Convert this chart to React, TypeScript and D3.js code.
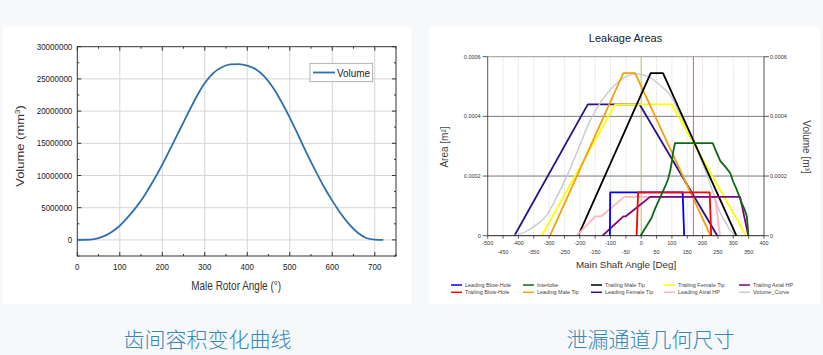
import React from 'react';
import * as d3 from 'd3';

const W = 823;
const H = 355;

// ---------- Left chart data (Volume vs Male Rotor Angle) ----------
const volumeAngle = [0, 20, 40, 60, 80, 100, 120, 140, 160, 180, 200, 220, 240, 260, 280, 300, 320, 340, 360, 380, 400, 420, 440, 460, 480, 500, 520, 540, 560, 580, 600, 620, 640, 660, 680, 700, 720];
const volumeMm3 = [0, 20000, 120000, 500000, 1200000, 2200000, 3600000, 5200000, 7100000, 9300000, 11700000, 14300000, 16950000, 19600000, 22150000, 24350000, 25900000, 26800000, 27250000, 27300000, 27050000, 26500000, 25400000, 23700000, 21500000, 19000000, 16250000, 13450000, 10800000, 8300000, 6100000, 4100000, 2400000, 1100000, 300000, 50000, 0];
const leftXTicks = [0, 100, 200, 300, 400, 500, 600, 700];
const leftYTicks = [0, 5000000, 10000000, 15000000, 20000000, 25000000, 30000000];

// ---------- Right chart data (Leakage Areas) ----------
const rightXTicksTop = [-500, -400, -300, -200, -100, 0, 100, 200, 300, 400];
const rightXTicksBottom = [-450, -350, -250, -150, -50, 50, 150, 250, 350];
const rightYTicks = [0, 0.0002, 0.0004, 0.0006];
const refLineGreen = 0;
const refLinePink = 170;

const leadingBlowHole: [number, number][] = [[-102, 0], [-101, 0.000145], [135, 0.000145], [140, 0]];
const trailingBlowHole: [number, number][] = [[-15, 0], [-10, 0.000145], [223, 0.000145], [228, 0]];
const interlobe: [number, number][] = [[-2, 0], [10, 0.00002], [22, 0.00004], [34, 0.00006], [45, 0.00009], [56, 0.000115], [67, 0.00014], [78, 0.000165], [88, 0.00019], [95, 0.00022], [100, 0.00025], [104, 0.00028], [110, 0.00031], [233, 0.00031], [245, 0.00028], [258, 0.00025], [275, 0.00023], [290, 0.00021], [300, 0.00018], [311, 0.000155], [320, 0.00013], [327, 0.00011], [336, 0.00009], [344, 0.000065], [347, 0.00003], [349, 0]];
const leadingMaleTip: [number, number][] = [[-297, 0], [-58, 0.000545], [-20, 0.000545], [226, 0]];
const trailingMaleTip: [number, number][] = [[-205, 0], [31, 0.000545], [71, 0.000545], [310, 0]];
const leadingFemaleTip: [number, number][] = [[-413, 0], [-174, 0.00044], [-5, 0.00044], [248, 0]];
const trailingFemaleTip: [number, number][] = [[-324, 0], [-85, 0.00044], [99, 0.00044], [342, 0]];
const leadingAxialHP: [number, number][] = [[-210, 0], [-150, 0.000065], [-130, 0.000065], [-55, 0.00013], [240, 0.00013], [257, 0]];
const trailingAxialHP: [number, number][] = [[-126, 0], [-58, 0.000065], [-50, 0.000065], [29, 0.00013], [322, 0.00013], [349, 0]];
const volumeCurve: [number, number][] = [[-418, 0], [-380, 0.000012], [-340, 0.000038], [-308, 0.000068], [-275, 0.00013], [-243, 0.000198], [-205, 0.00029], [-167, 0.000385], [-130, 0.00045], [-91, 0.0005], [-55, 0.00053], [-20, 0.000542], [20, 0.000535], [60, 0.000505], [94, 0.000472], [137, 0.000385], [170, 0.000325], [190, 0.00027], [224, 0.000175], [257, 0.000078], [280, 0.000035], [295, 0.000012], [308, 0]];

const seriesNames = ['Leading Blow-Hole', 'Trailing Blow-Hole', 'Interlobe', 'Leading Male Tip', 'Trailing Male Tip', 'Leading Female Tip', 'Trailing Female Tip', 'Leading Axial HP', 'Trailing Axial HP', 'Volume_Curve'];
const seriesColors = ['#0000ff', '#ff0000', '#0a6b12', '#f5a00a', '#000000', '#2e1088', '#ffff00', '#ffb6c1', '#800080', '#c9ccd6'];
const seriesData = [leadingBlowHole, trailingBlowHole, interlobe, leadingMaleTip, trailingMaleTip, leadingFemaleTip, trailingFemaleTip, leadingAxialHP, trailingAxialHP, volumeCurve];
// drawing order (indices)
const drawOrder = [5, 9, 6, 3, 4, 7, 8, 0, 1, 2];

const captionLeft = '齿间容积变化曲线';
const captionRight = '泄漏通道几何尺寸';

function LeftChart() {
  const x = d3.scaleLinear().domain([0, 750]).range([77.3, 396]);
  const y = d3.scaleLinear().domain([-2500000, 30000000]).range([256, 46.7]);
  const [x0, x1] = x.range();
  const [y0, y1] = y.range();
  const line = d3.line<number>().x((_, i) => x(volumeAngle[i])).y((d) => y(d)).curve(d3.curveMonotoneX);
  const font = 'Liberation Sans, Arial, sans-serif';
  const minorX = leftXTicks.map((t) => t + 50);
  const minorY = leftYTicks.map((t) => t - 2500000);
  return (
    <g>
      <rect x={3} y={27} width={408.5} height={277} fill="#ffffff" />
      {leftXTicks.slice(1).map((t) => (
        <line key={'gx' + t} x1={x(t)} x2={x(t)} y1={y1} y2={y0} stroke="#d6d6d6" strokeWidth={1} />
      ))}
      {leftYTicks.slice(0, -1).map((t) => (
        <line key={'gy' + t} x1={x0} x2={x1} y1={y(t)} y2={y(t)} stroke="#d6d6d6" strokeWidth={1} />
      ))}
      {leftXTicks.map((t) => (
        <g key={'tx' + t}>
          <line x1={x(t)} x2={x(t)} y1={y0} y2={y0 - 4} stroke="#333" />
          <line x1={x(t)} x2={x(t)} y1={y1} y2={y1 + 4} stroke="#333" />
        </g>
      ))}
      {minorX.map((t) => (
        <g key={'mx' + t}>
          <line x1={x(t)} x2={x(t)} y1={y0} y2={y0 - 2} stroke="#333" />
          <line x1={x(t)} x2={x(t)} y1={y1} y2={y1 + 2} stroke="#333" />
        </g>
      ))}
      {leftYTicks.map((t) => (
        <g key={'ty' + t}>
          <line x1={x0} x2={x0 + 4} y1={y(t)} y2={y(t)} stroke="#333" />
          <line x1={x1} x2={x1 - 4} y1={y(t)} y2={y(t)} stroke="#333" />
        </g>
      ))}
      {minorY.map((t) => (
        <g key={'my' + t}>
          <line x1={x0} x2={x0 + 2} y1={y(t)} y2={y(t)} stroke="#333" />
          <line x1={x1} x2={x1 - 2} y1={y(t)} y2={y(t)} stroke="#333" />
        </g>
      ))}
      <rect x={x0} y={y1} width={x1 - x0} height={y0 - y1} fill="none" stroke="#333" strokeWidth={1} />
      <path d={line(volumeMm3) || ''} fill="none" stroke="#2e6fae" strokeWidth={1.8} />
      {leftYTicks.map((t) => (
        <text key={'ly' + t} transform={`translate(${x0 - 5},${y(t) + 3}) scale(0.89,1)`} textAnchor="end" fontFamily={font} fontSize={9} fill="#222">
          {t}
        </text>
      ))}
      {leftXTicks.map((t) => (
        <text key={'lx' + t} transform={`translate(${x(t)},${270}) scale(0.89,1)`} textAnchor="middle" fontFamily={font} fontSize={9} fill="#222">
          {t}
        </text>
      ))}
      <text transform={`translate(${(x0 + x1) / 2 - 0.5},${289.5}) scale(0.83,1)`} textAnchor="middle" fontFamily={font} fontSize={12} fill="#333">
        Male Rotor Angle (°)
      </text>
      <text transform={`translate(24,${146}) rotate(-90) scale(1,0.85)`} textAnchor="middle" fontFamily={font} fontSize={13} fill="#333">
        Volume (mm<tspan dy={-5} fontSize={8}>3</tspan><tspan dy={5}>)</tspan>
      </text>
      <rect x={310} y={63.3} width={62.7} height={18.4} fill="#fff" stroke="#a0a0a0" strokeWidth={0.8} />
      <line x1={313} x2={335} y1={72.5} y2={72.5} stroke="#2e6fae" strokeWidth={1.8} />
      <text transform="translate(337,76.5) scale(0.9,1)" fontFamily={font} fontSize={11} fill="#222">
        Volume
      </text>
    </g>
  );
}

function RightChart() {
  const x = d3.scaleLinear().domain([-500, 400]).range([487.7, 764]);
  const y = d3.scaleLinear().domain([0, 0.0006]).range([235.7, 56.7]);
  const [x0, x1] = x.range();
  const [y0, y1] = y.range();
  const font = 'Liberation Sans, Arial, sans-serif';
  const line = d3.line<[number, number]>().x((d) => x(d[0])).y((d) => y(d[1]));
  const smooth = d3.line<[number, number]>().x((d) => x(d[0])).y((d) => y(d[1])).curve(d3.curveMonotoneX);
  const gridX = [...rightXTicksTop, ...rightXTicksBottom].filter((t) => t > -500 && t < 400);
  const allTicks = [...rightXTicksTop, ...rightXTicksBottom];
  const legendColX = [451, 523, 591, 664, 739];
  const legendRowY = [285, 292.3];
  return (
    <g>
      <rect x={429} y={27} width={391} height={277} fill="#ffffff" />
      {gridX.map((t) => (
        <line key={'g' + t} x1={x(t)} x2={x(t)} y1={y1} y2={y0} stroke="#c4c4c4" strokeWidth={0.8} strokeDasharray="1,1.5" />
      ))}
      {rightYTicks.slice(1).map((t) => (
        <line key={'h' + t} x1={x0} x2={x1} y1={y(t)} y2={y(t)} stroke={t === 0.0006 ? '#9a9a9a' : '#7a7a7a'} strokeWidth={1} />
      ))}
      <line x1={x(refLineGreen)} x2={x(refLineGreen)} y1={y1} y2={y0} stroke="#a8d060" strokeWidth={1} />
      <line x1={x(refLinePink)} x2={x(refLinePink)} y1={y1} y2={y0} stroke="#ee4c9a" strokeWidth={1} />
      {drawOrder.map((i) => (
        <path key={'s' + i} d={(i === 9 ? smooth(seriesData[i]) : line(seriesData[i])) || ''} fill="none" stroke={seriesColors[i]} strokeWidth={i === 9 ? 1.5 : 1.8} strokeLinejoin="round" />
      ))}
      <line x1={x0} x2={x0} y1={y1} y2={y0} stroke="#555" strokeWidth={1} />
      <line x1={x1} x2={x1} y1={y1} y2={y0} stroke="#555" strokeWidth={1} />
      <line x1={x0} x2={x1} y1={y0} y2={y0} stroke="#222" strokeWidth={1} />
      {allTicks.map((t) => (
        <line key={'xt' + t} x1={x(t)} x2={x(t)} y1={y0} y2={y0 + 3} stroke="#333" strokeWidth={0.8} />
      ))}
      {rightXTicksTop.map((t) => (
        <text key={'xl' + t} x={x(t)} y={245.3} textAnchor="middle" fontFamily={font} fontSize={5.5} fill="#333">
          {t}
        </text>
      ))}
      {rightXTicksBottom.map((t) => (
        <text key={'xb' + t} x={x(t)} y={254.3} textAnchor="middle" fontFamily={font} fontSize={5.5} fill="#333">
          {t}
        </text>
      ))}
      {rightYTicks.map((t) => (
        <g key={'yt' + t}>
          <line x1={x0 - 5} x2={x0} y1={y(t)} y2={y(t)} stroke="#333" strokeWidth={0.8} />
          <line x1={x1} x2={x1 + 5} y1={y(t)} y2={y(t)} stroke="#333" strokeWidth={0.8} />
          <text x={x0 - 7} y={y(t) + 2} textAnchor="end" fontFamily={font} fontSize={5.5} fill="#333">
            {t === 0 ? '0' : t.toFixed(4)}
          </text>
          <text x={x1 + 6} y={y(t) + 2} textAnchor="start" fontFamily={font} fontSize={5.5} fill="#333">
            {t === 0 ? '0' : t.toFixed(4)}
          </text>
        </g>
      ))}
      <text x={625.5} y={42} textAnchor="middle" fontFamily={font} fontSize={11} fill="#222">
        Leakage Areas
      </text>
      <text x={626} y={267.5} textAnchor="middle" fontFamily={font} fontSize={9.8} fill="#333">
        Main Shaft Angle [Deg]
      </text>
      <text transform="translate(448,147) rotate(-90)" textAnchor="middle" fontFamily={font} fontSize={10} fill="#444">
        Area [m²]
      </text>
      <text transform="translate(803,147) rotate(90)" textAnchor="middle" fontFamily={font} fontSize={10} fill="#444">
        Volume [m³]
      </text>
      {seriesNames.map((name, i) => {
        const col = Math.floor(i / 2);
        const row = i % 2;
        const lx = legendColX[col];
        const ly = legendRowY[row];
        return (
          <g key={'lg' + i}>
            <line x1={lx} x2={lx + 11} y1={ly} y2={ly} stroke={seriesColors[i]} strokeWidth={1.5} />
            <text x={lx + 14} y={ly + 2} fontFamily={font} fontSize={5.5} fill="#444">
              {name}
            </text>
          </g>
        );
      })}
    </g>
  );
}

export default function App() {
  const cjk = '"Noto Sans CJK SC", sans-serif';
  return (
    <svg width={W} height={H} viewBox={`0 0 ${W} ${H}`} style={{ position: 'absolute', left: 0, top: 0, display: 'block' }}>
      <rect x={0} y={0} width={W} height={H} fill="#f7f8fa" />
      <LeftChart />
      <RightChart />
      <text x={207.5} y={346.5} textAnchor="middle" fontFamily={cjk} fontSize={21} fontWeight={300} fill="#3288b8">
        {captionLeft}
      </text>
      <text x={650.5} y={346.5} textAnchor="middle" fontFamily={cjk} fontSize={21} fontWeight={300} fill="#3288b8">
        {captionRight}
      </text>
    </svg>
  );
}
